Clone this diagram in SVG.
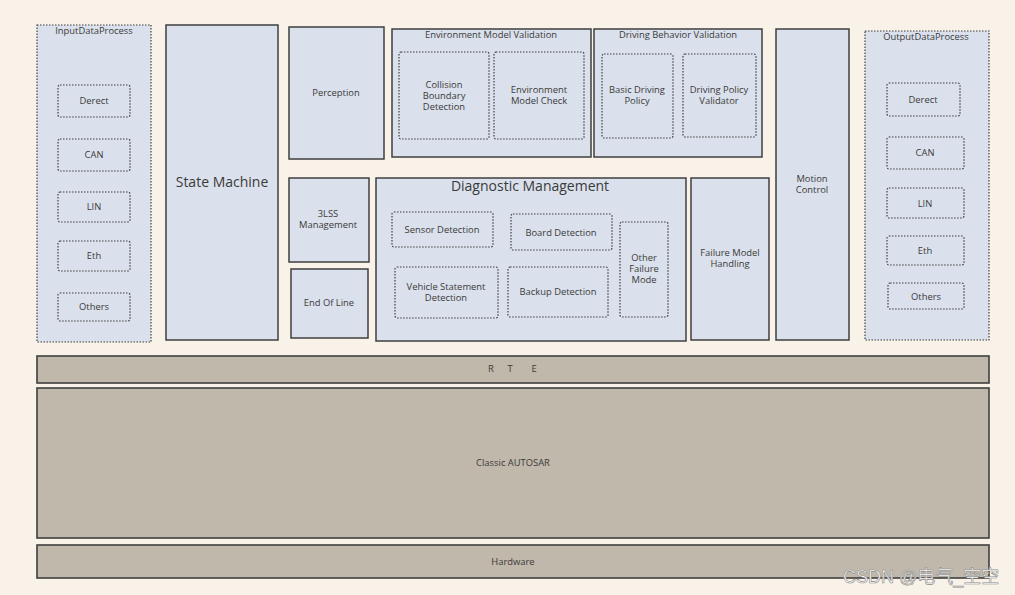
<svg xmlns="http://www.w3.org/2000/svg" width="1015" height="595" viewBox="0 0 1015 595">
<style>
.bg{fill:#f9f2e9}
.box{fill:#dae1ec;stroke:#3f3f3f;stroke-width:1.5}
.grp{fill:#dae1ec;stroke:#3f3f3f;stroke-width:1.2;stroke-dasharray:1.5 1.5}
.sub{fill:none;stroke:#3f3f3f;stroke-width:1.2;stroke-dasharray:1.5 1.5}
.base{fill:#c0b8ab;stroke:#3f3f3f;stroke-width:1.6}
text{font-family:"Open Sans","Noto Sans","Liberation Sans",sans-serif;fill:#3a3a3a;font-size:9.4px;text-anchor:middle}
.big{font-size:14px}
.wm{font-family:"Liberation Sans","Noto Sans CJK SC",sans-serif;font-size:18px;fill:#ffffff;stroke:#8a8a8a;stroke-width:0.6;text-anchor:start}
</style>
<rect class="bg" x="0" y="0" width="1015" height="595"/>

<g id="input-data-process">
<rect class="grp" x="37" y="25" width="114" height="317"/>
<text x="94" y="34">InputDataProcess</text>
<rect class="sub" x="58" y="85" width="72" height="32" rx="2"/><text x="94" y="104">Derect</text>
<rect class="sub" x="58" y="139" width="72" height="32" rx="2"/><text x="94" y="158">CAN</text>
<rect class="sub" x="58" y="192" width="72" height="30" rx="2"/><text x="94" y="210">LIN</text>
<rect class="sub" x="58" y="241" width="72" height="30" rx="2"/><text x="94" y="259">Eth</text>
<rect class="sub" x="58" y="293" width="72" height="28" rx="2"/><text x="94" y="310">Others</text>
</g>

<g id="state-machine">
<rect class="box" x="166" y="25" width="112" height="315"/>
<text class="big" x="222" y="187">State Machine</text>
</g>

<g id="perception">
<rect class="box" x="289" y="27" width="95" height="132"/>
<text x="336" y="96">Perception</text>
</g>

<g id="environment-model-validation">
<rect class="box" x="392" y="29" width="199" height="128"/>
<text x="491" y="38">Environment Model Validation</text>
<rect class="sub" x="399" y="52" width="90" height="87" rx="2"/>
<text x="444" y="88">Collision</text><text x="444" y="99">Boundary</text><text x="444" y="110">Detection</text>
<rect class="sub" x="494" y="52" width="90" height="87" rx="2"/>
<text x="539" y="93">Environment</text><text x="539" y="104">Model Check</text>
</g>

<g id="driving-behavior-validation">
<rect class="box" x="594" y="29" width="168" height="128"/>
<text x="678" y="38">Driving Behavior Validation</text>
<rect class="sub" x="602" y="54" width="71" height="84" rx="2"/>
<text x="637" y="93">Basic Driving</text><text x="637" y="104">Policy</text>
<rect class="sub" x="683" y="54" width="73" height="83" rx="2"/>
<text x="719" y="93">Driving Policy</text><text x="719" y="104">Validator</text>
</g>

<g id="motion-control">
<rect class="box" x="776" y="29" width="73" height="311"/>
<text x="812" y="182">Motion</text><text x="812" y="193">Control</text>
</g>

<g id="output-data-process">
<rect class="grp" x="865" y="31" width="124" height="309"/>
<text x="926" y="40">OutputDataProcess</text>
<rect class="sub" x="887" y="83" width="73" height="33" rx="2"/><text x="923" y="103">Derect</text>
<rect class="sub" x="887" y="137" width="77" height="32" rx="2"/><text x="925" y="156">CAN</text>
<rect class="sub" x="887" y="188" width="77" height="30" rx="2"/><text x="925" y="207">LIN</text>
<rect class="sub" x="887" y="236" width="77" height="29" rx="2"/><text x="925" y="254">Eth</text>
<rect class="sub" x="888" y="283" width="76" height="26" rx="2"/><text x="926" y="300">Others</text>
</g>

<g id="3lss-management">
<rect class="box" x="289" y="178" width="80" height="84"/>
<text x="328" y="217">3LSS</text><text x="328" y="228">Management</text>
</g>

<g id="end-of-line">
<rect class="box" x="291" y="269" width="77" height="69"/>
<text x="329" y="306">End Of Line</text>
</g>

<g id="diagnostic-management">
<rect class="box" x="376" y="178" width="310" height="163"/>
<text class="big" x="530" y="191">Diagnostic Management</text>
<rect class="sub" x="392" y="212" width="101" height="35" rx="2"/><text x="442" y="233">Sensor Detection</text>
<rect class="sub" x="511" y="214" width="101" height="36" rx="2"/><text x="561" y="236">Board Detection</text>
<rect class="sub" x="620" y="222" width="48" height="95" rx="2"/>
<text x="644" y="261">Other</text><text x="644" y="272">Failure</text><text x="644" y="283">Mode</text>
<rect class="sub" x="395" y="267" width="103" height="51" rx="2"/>
<text x="446" y="290">Vehicle Statement</text><text x="446" y="301">Detection</text>
<rect class="sub" x="508" y="267" width="100" height="50" rx="2"/><text x="558" y="295">Backup Detection</text>
</g>

<g id="failure-model-handling">
<rect class="box" x="691" y="178" width="78" height="162"/>
<text x="730" y="256">Failure Model</text><text x="730" y="267">Handling</text>
</g>

<g id="rte">
<rect class="base" x="37" y="356" width="952" height="27"/>
<text x="491" y="372">R</text><text x="510" y="372">T</text><text x="534" y="372">E</text>
</g>

<g id="classic-autosar">
<rect class="base" x="37" y="388" width="952" height="150"/>
<text x="513" y="466">Classic AUTOSAR</text>
</g>

<g id="hardware">
<rect class="base" x="37" y="545" width="952" height="33"/>
<text x="513" y="565">Hardware</text>
</g>

<g id="connectors"></g>

<text class="wm" x="843" y="583">CSDN @电气_空空</text>
</svg>
